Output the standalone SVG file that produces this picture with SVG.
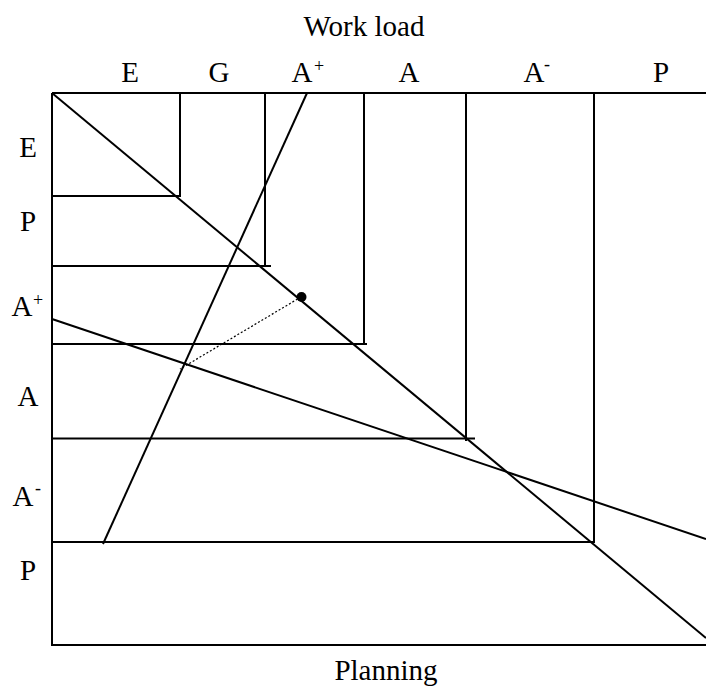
<svg xmlns="http://www.w3.org/2000/svg" width="706" height="686" viewBox="0 0 706 686">
<style>
.t{font-family:"Liberation Serif","Times New Roman",serif;font-size:29px;fill:#000;text-anchor:middle}
.s{font-size:18px}
.l{stroke:#000;stroke-width:2;fill:none}
</style>
<rect width="706" height="686" fill="#fff"/>
<g id="labels">
<text class="t" x="364" y="36">Work load</text>
<text class="t" x="130" y="82">E</text>
<text class="t" x="219" y="82">G</text>
<text class="t" x="302" y="82">A</text><text class="t s" x="319" y="72">+</text>
<text class="t" x="409" y="82">A</text>
<text class="t" x="534" y="82">A</text><text class="t s" x="547" y="70">-</text>
<text class="t" x="661" y="82">P</text>
<text class="t" x="28" y="157">E</text>
<text class="t" x="28" y="231">P</text>
<text class="t" x="22" y="316">A</text><text class="t s" x="38" y="306">+</text>
<text class="t" x="28" y="406">A</text>
<text class="t" x="23" y="506">A</text><text class="t s" x="38" y="494">-</text>
<text class="t" x="28" y="580">P</text>
<text class="t" x="386" y="680">Planning</text>
</g>
<g id="grid" class="l">
<path d="M52,93H706M52,93V645H706"/>
<path d="M180,93V196H52"/>
<path d="M265,93V266H271M265,266H52"/>
<path d="M364,93V344H367M364,344H52"/>
<path d="M466,93V441M52,438.5H475"/>
<path d="M594,93V542H52"/>
</g>
<g id="connectors" class="l">
<line x1="52" y1="93" x2="706" y2="638"/>
<line x1="307" y1="93" x2="103" y2="544"/>
<line x1="52" y1="319" x2="706" y2="539"/>
<line x1="301" y1="297" x2="180" y2="369" stroke-width="1.2" stroke-dasharray="2,2"/>
<circle cx="301.5" cy="297" r="5" fill="#000" stroke="none"/>
</g>
</svg>
